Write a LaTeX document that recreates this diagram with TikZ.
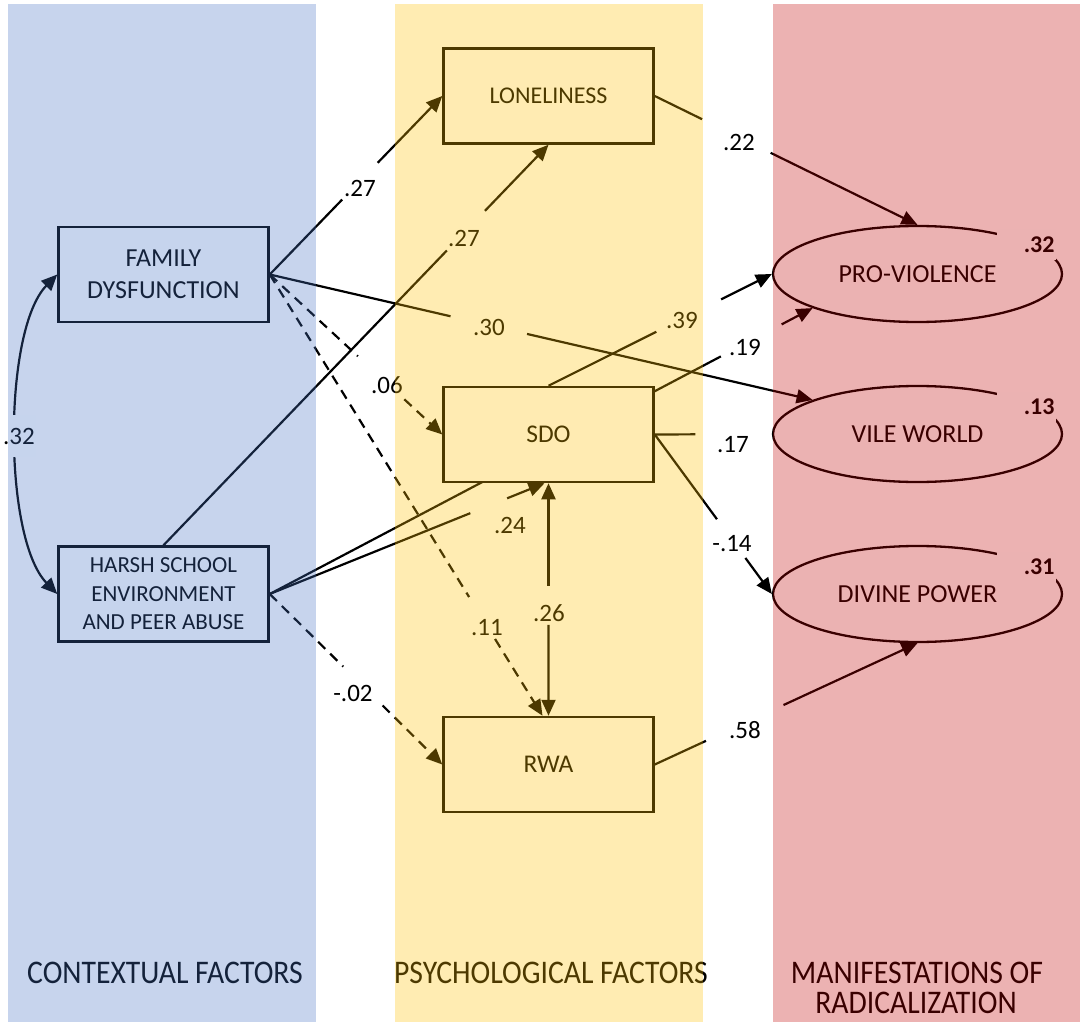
\documentclass[tikz,border=0pt]{standalone}
\usepackage{fontspec}
\setmainfont{Carlito}
\usetikzlibrary{arrows.meta,calc,shapes.geometric}
\pgfdeclarelayer{edges}
\pgfdeclarelayer{labs}
\pgfdeclarelayer{rlabs}
\pgfdeclarelayer{panels}
\pgfsetlayers{edges,labs,main,rlabs,panels}
\definecolor{pblue}{HTML}{4472C4}
\definecolor{pgold}{HTML}{FFC000}
\definecolor{pred}{HTML}{C00000}
\newcommand{\myfs}[2]{\fontsize{#1}{#2}\selectfont}
\begin{document}
\begin{tikzpicture}[x=1pt,y=-1pt,
  box/.style={draw, line width=2.5pt, fill=white, minimum width=210pt, minimum height=95pt, inner sep=0pt, align=center},
  ell/.style={ellipse, draw, line width=2.3pt, fill=white, minimum width=289pt, minimum height=96pt, inner sep=0pt, font=\myfs{26}{30}},
  seg/.style={line width=2.2pt},
  conn/.style={line width=2.2pt, -{Triangle[length=16pt,width=14pt]}},
  dsh/.style={dash pattern=on 10pt off 7pt},
  coef/.style={inner sep=0pt, font=\myfs{25}{30}},
  rsq/.style={fill=white, inner xsep=1pt, inner ysep=0pt, text width=57pt, minimum height=31pt, align=right, font=\bfseries\myfs{24}{28}},
  panel/.style={fill opacity=0.3, draw=none},
  bottomlab/.style={anchor=base, inner sep=0pt, font=\myfs{33}{33}}
  ]
\useasboundingbox (0,0) rectangle (1080,1022);

% nodes
\node[box, font=\myfs{26}{32}] (fam) at (163.5,274.5) {FAMILY\\DYSFUNCTION};
\node[box, font=\myfs{23}{28.5}] (harsh) at (163.5,594) {HARSH SCHOOL\\ENVIRONMENT\\AND PEER ABUSE};
\node[box, font=\myfs{24}{28}] (lon) at (548.5,96) {LONELINESS};
\node[box, font=\myfs{25.5}{30}] (sdo) at (548.5,434.5) {SDO};
\node[box, font=\myfs{25.5}{30}] (rwa) at (548.5,764.5) {RWA};
\node[ell] (pv) at (917.5,274) {PRO-VIOLENCE};
\node[ell] (vw) at (917.5,434) {VILE WORLD};
\node[ell] (dp) at (917.5,594) {DIVINE POWER};
\coordinate (rwaL) at ([xshift=-6pt]rwa.north);
\coordinate (sdoB) at ([xshift=-4pt]sdo.south);

\begin{pgfonlayer}{edges}
% FAM -> LON
\draw[seg] (fam.east) -- ($(fam.east)!0.42!(lon.west)$);
\draw[conn] ($(fam.east)!0.626!(lon.west)$) -- (lon.west);
% HARSH -> LON
\draw[seg] (harsh.north) -- ($(harsh.north)!0.736!(lon.south)$);
\draw[conn] ($(harsh.north)!0.835!(lon.south)$) -- (lon.south);
% FAM -> VW
\draw[seg] (fam.east) -- ($(fam.east)!0.333!(vw.162)$);
\draw[conn] ($(fam.east)!0.474!(vw.162)$) -- (vw.162);
% FAM -> SDO (dashed)
\draw[seg,dsh] (fam.east) -- ($(fam.east)!0.511!(sdo.west)$);
\draw[conn,dsh] ($(fam.east)!0.78!(sdo.west)$) -- (sdo.west);
% FAM -> RWA (dashed)
\draw[seg,dsh] (fam.east) -- ($(fam.east)!0.731!(rwaL)$);
\draw[conn,dsh] ($(fam.east)!0.826!(rwaL)$) -- (rwaL);
% HARSH -> SDO
\draw[seg] (harsh.east) -- ($(harsh.east)!0.73!(sdoB)$);
\draw[conn] ($(harsh.east)!0.864!(sdoB)$) -- (sdoB);
% HARSH -> PV (behind SDO)
\draw[seg] (harsh.east) -- ($(harsh.east)!0.831!(pv.198)$);
\draw[conn] ($(harsh.east)!0.943!(pv.198)$) -- (pv.198);
% HARSH -> RWA (dashed)
\draw[seg,dsh] (harsh.east) -- ($(harsh.east)!0.426!(rwa.west)$);
\draw[conn,dsh] ($(harsh.east)!0.654!(rwa.west)$) -- (rwa.west);
% SDO -> PV
\draw[seg] (sdo.north) -- ($(sdo.north)!0.483!(pv.west)$);
\draw[conn] ($(sdo.north)!0.773!(pv.west)$) -- (pv.west);
% SDO -> VW
\draw[seg] (sdo.east) -- ($(sdo.east)!0.347!(vw.west)$);
% SDO -> DP
\draw[seg] (sdo.east) -- ($(sdo.east)!0.531!(dp.west)$);
\draw[conn] ($(sdo.east)!0.774!(dp.west)$) -- (dp.west);
% LON -> PV
\draw[seg] (lon.east) -- ($(lon.east)!0.18!(pv.north)$);
\draw[conn] ($(lon.east)!0.441!(pv.north)$) -- (pv.north);
% RWA -> DP
\draw[seg] (rwa.east) -- ($(rwa.east)!0.195!(dp.south)$);
\draw[conn] ($(rwa.east)!0.49!(dp.south)$) -- (dp.south);
% SDO <-> RWA
\draw[conn] ($(sdo.south)!0.44!(rwa.north)$) -- (sdo.south);
\draw[conn] ($(sdo.south)!0.609!(rwa.north)$) -- (rwa.north);
% FAM <-> HARSH
\draw[line width=2.2pt, {Triangle[length=16pt,width=14pt]}-{Triangle[length=16pt,width=14pt]}]
  (fam.west) .. controls (3,330) and (3,538) .. (harsh.west);
\end{pgfonlayer}

\begin{pgfonlayer}{labs}
\node[coef, fill=white, minimum width=34pt, minimum height=42pt] (c32) at (19,436) {.32};
\end{pgfonlayer}

% coefficient labels
\node[coef] (l1) at (360,188) {.27};
\node[coef] (l2) at (464,238) {.27};
\node[coef] (l3) at (489,327) {.30};
\node[coef] (l4) at (387,385) {.06};
\node[coef] (l5) at (487,628) {.11};
\node[coef] (l6) at (510,525) {.24};
\node[coef] (l7) at (745,347) {.19};
\node[coef] (l8) at (682,320) {.39};
\node[coef] (l9) at (733,445) {.17};
\node[coef] (l10) at (732,544) {-.14};
\node[coef] (l11) at (739,142) {.22};
\node[coef] (l12) at (745,730) {.58};
\node[coef] (l13) at (549,613) {.26};
\node[coef] (l14) at (353,693) {-.02};

\begin{pgfonlayer}{rlabs}
\node[rsq] (r1) at ($(pv.center)+(108.5,-29.5)$) {.32};
\node[rsq] (r2) at ($(vw.center)+(108.5,-27)$) {.13};
\node[rsq] (r3) at ($(dp.center)+(108.5,-27)$) {.31};
\end{pgfonlayer}

% bottom labels
\node[bottomlab] (ctx) at (165,983) {\scalebox{0.9}[1]{CONTEXTUAL FACTORS}};
\node[bottomlab] (psy) at (551,983) {\scalebox{0.9}[1]{PSYCHOLOGICAL FACTORS}};
\node[bottomlab] (mf1) at (917,983) {\scalebox{0.9}[1]{MANIFESTATIONS OF}};
\node[bottomlab] (mf2) at (916,1013) {\scalebox{0.9}[1]{RADICALIZATION}};

\begin{pgfonlayer}{panels}
\fill[fill=pblue, panel] (8,4) rectangle (315.5,1022);
\fill[fill=pgold, panel] (394.6,4) rectangle (702.5,1022);
\fill[fill=pred, panel] (772.7,4) rectangle (1080,1022);
\end{pgfonlayer}
\end{tikzpicture}
\end{document}
